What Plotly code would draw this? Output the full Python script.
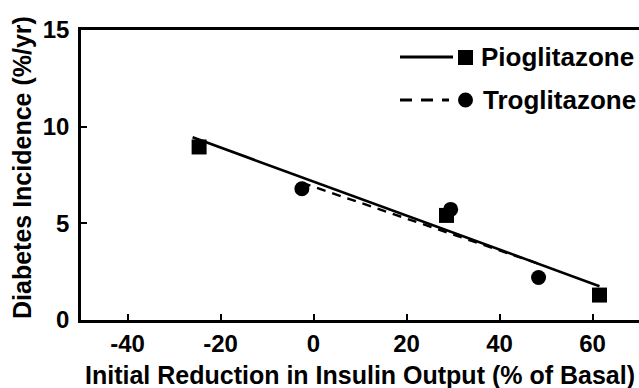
import plotly.graph_objects as go

# Data points
pio_x = [-24.6, 28.6, 61.5]
pio_y = [8.95, 5.41, 1.29]
tro_x = [-2.5, 29.5, 48.4]
tro_y = [6.79, 5.72, 2.2]

# Regression line endpoints
pio_fit_x = [-26.0, 61.5]
pio_fit_y = [9.45, 1.75]
tro_fit_x = [-2.5, 48.5]
tro_fit_y = [7.1, 2.9]

x_ticks = [-40, -20, 0, 20, 40, 60]
x_tick_text = ["-40", "-20", "0", "20", "40", "60"]
y_ticks = [0, 5, 10, 15]
y_tick_text = ["0", "5", "10", "15"]

FONT = "Liberation Sans, Arial, Helvetica, sans-serif"

fig = go.Figure()
fig.add_trace(go.Scatter(x=pio_fit_x, y=pio_fit_y, mode="lines",
                         line=dict(color="black", width=2.6), showlegend=False))
fig.add_trace(go.Scatter(x=tro_fit_x, y=tro_fit_y, mode="lines",
                         line=dict(color="black", width=2.4, dash="9px,7px"), showlegend=False))
fig.add_trace(go.Scatter(x=pio_x, y=pio_y, mode="markers",
                         marker=dict(symbol="square", size=15, color="black"), showlegend=False))
fig.add_trace(go.Scatter(x=tro_x, y=tro_y, mode="markers",
                         marker=dict(symbol="circle", size=15, color="black"), showlegend=False))

L, T, W, H = 81, 30, 558, 290
def px(x):
    return (x - L) / W
def py(y):
    return (T + H - y) / H

shapes = [
    dict(type="line", xref="paper", yref="paper", x0=px(400), x1=px(453), y0=py(57), y1=py(57),
         line=dict(color="black", width=2.8)),
    dict(type="rect", xref="paper", yref="paper", x0=px(458), x1=px(473), y0=py(50), y1=py(65),
         fillcolor="black", line=dict(width=0)),
    dict(type="line", xref="paper", yref="paper", x0=px(400), x1=px(449), y0=py(100), y1=py(100),
         line=dict(color="black", width=2.8, dash="12px,9px")),
    dict(type="circle", xref="paper", yref="paper", x0=px(458), x1=px(473), y0=py(92.5), y1=py(107.5),
         fillcolor="black", line=dict(width=0)),
]

def bold(s):
    return "<b>" + s + "</b>"

annotations = [
    dict(text=bold("Pioglitazone"), xref="paper", yref="paper", x=px(479), y=py(57),
         xanchor="left", yanchor="middle", showarrow=False,
         font=dict(family=FONT, size=26, color="black")),
    dict(text=bold("Troglitazone"), xref="paper", yref="paper", x=px(481), y=py(100),
         xanchor="left", yanchor="middle", showarrow=False,
         font=dict(family=FONT, size=26, color="black")),
    dict(text=bold("Initial Reduction in Insulin Output (% of Basal)"), xref="paper", yref="paper",
         x=px(360), y=py(375), xanchor="center", yanchor="middle", showarrow=False,
         font=dict(family=FONT, size=25, color="black")),
    dict(text=bold("Diabetes Incidence (%/yr)"), xref="paper", yref="paper", textangle=-90,
         x=px(22), y=py(168), xanchor="center", yanchor="middle", showarrow=False,
         font=dict(family=FONT, size=25, color="black")),
]

fig.update_layout(
    width=639, height=388,
    margin=dict(l=L, r=639 - L - W, t=T, b=388 - T - H),
    paper_bgcolor="white", plot_bgcolor="white",
    shapes=shapes, annotations=annotations,
    font=dict(family=FONT, color="black"),
)
fig.update_xaxes(range=[-50, 70], tickvals=x_ticks, ticktext=[bold(t) for t in x_tick_text],
                 ticks="inside", ticklen=6, tickwidth=2,
                 tickcolor="black", showline=True, linecolor="black", linewidth=2.5, mirror=True,
                 showgrid=False, zeroline=False,
                 tickfont=dict(family=FONT, size=24, color="black"))
fig.update_yaxes(range=[0, 15], tickvals=y_ticks, ticktext=[bold(t) for t in y_tick_text],
                 ticks="inside", ticklen=6, tickwidth=2,
                 tickcolor="black", showline=True, linecolor="black", linewidth=2.5,
                 showgrid=False, zeroline=False, ticklabelstandoff=4,
                 tickfont=dict(family=FONT, size=24, color="black"))

fig.write_html("out.html", config={"displayModeBar": False},
               post_script="document.body.style.margin='0';document.body.style.overflow='hidden';")
